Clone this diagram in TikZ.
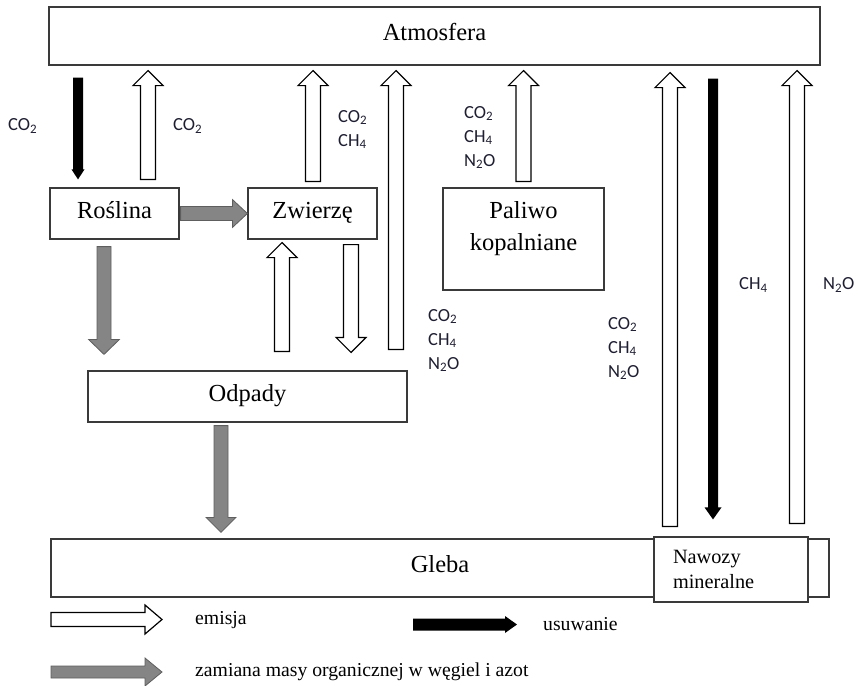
\documentclass[tikz,border=0pt]{standalone}
\usepackage{fontspec}
\setmainfont{Liberation Serif}
\newfontfamily\calibri{Carlito}
\usepackage{tikz}
\usetikzlibrary{positioning,calc}
\definecolor{frame}{HTML}{3A3A3A}
\definecolor{organic}{HTML}{858585}
\definecolor{organicdark}{HTML}{5E5E5E}
\definecolor{gas}{HTML}{1E1E32}
\pgfkeys{/arr/.cd, shaft/.store in=\arrsw, head/.store in=\arrhw, tip/.store in=\arrhl,
  shaft=7.5pt, head=15pt, tip=15pt}
% block arrow from #2 to #3
\newcommand{\blockarrow}[3][]{%
  \path[#1] ($(#2)!\arrsw!90:(#3)$) -- ($(#3)!\arrhl!(#2)!\arrsw!-90:(#2)$)
    -- ($(#3)!\arrhl!(#2)!\arrhw!-90:(#2)$) -- (#3)
    -- ($(#3)!\arrhl!(#2)!\arrhw!90:(#2)$) -- ($(#3)!\arrhl!(#2)!\arrsw!90:(#2)$)
    -- ($(#2)!\arrsw!-90:(#3)$) -- cycle;}

\begin{document}
\begin{tikzpicture}[x=1pt, y=-1pt,
  box/.style={draw=frame, line width=1.2pt, fill=white, inner sep=0pt},
  main/.style={box, text height=17pt, text depth=8pt, font=\fontsize{24.5}{32}\selectfont},
  gas/.style={anchor=west, align=left, text=gas, inner sep=0pt, font=\calibri\fontsize{18.5}{24}\selectfont},
  leg/.style={anchor=west, inner sep=0pt, font=\fontsize{19.7}{24}\selectfont},
  emis/.style={draw=black, line width=1.2pt, fill=white, /arr/shaft=7.5pt, /arr/head=15pt, /arr/tip=15pt},
  usuw/.style={fill=black, /arr/shaft=5pt, /arr/head=8.5pt, /arr/tip=12pt},
  organ/.style={draw=organicdark, line width=0.8pt, fill=organic, /arr/shaft=7pt, /arr/head=15pt, /arr/tip=15pt}]
\useasboundingbox (0,0) rectangle (858,685);
% boxes
\node[main, minimum width=771pt, minimum height=58pt] (atm) at (434.5,36) {Atmosfera};
\node[main, minimum width=129pt, minimum height=51pt] (rosl) at (114.5,213.5) {Roślina};
\node[main, minimum width=129pt, minimum height=51pt] (zw) at (312.5,213.5) {Zwierzę};
\node[box, minimum width=161pt, minimum height=102pt] (pal) at (523.5,239) {};
\node[align=center, inner sep=0pt, font=\fontsize{24.5}{32}\selectfont] (paltxt) at (523.5,228.5) {Paliwo\\kopalniane};
\node[main, minimum width=319pt, minimum height=51pt] (odp) at (247.5,396.5) {Odpady};
\node[main, minimum width=778pt, minimum height=58pt] (gleba) at (440,568) {Gleba};
\node[box, align=left, text width=116pt, inner xsep=19pt, minimum height=65pt,
  font=\fontsize{20.3}{25}\selectfont] (naw) at (731,569.5) {Nawozy\\mineralne};
% emisja
\coordinate (e1a) at ($(rosl.north)+(33.5,-8)$);
\coordinate (e1b) at ($(e1a|-atm.south)+(0,5)$);
\coordinate (e2a) at ($(zw.north)+(0.5,-6)$);
\coordinate (e2b) at ($(e2a|-atm.south)+(0,5)$);
\coordinate (e3a) at ($(odp.north)+(148.5,-21)$);
\coordinate (e3b) at ($(e3a|-atm.south)+(0,5)$);
\coordinate (e4a) at ($(pal.north)+(0,-6)$);
\coordinate (e4b) at ($(e4a|-atm.south)+(0,5)$);
\coordinate (e5a) at ($(naw.north)+(-61,-10)$);
\coordinate (e5b) at ($(e5a|-atm.south)+(0,7)$);
\coordinate (e6a) at ($(naw.north)+(66,-13)$);
\coordinate (e6b) at ($(e6a|-atm.south)+(0,5)$);
\coordinate (e7a) at ($(odp.north)+(34.5,-19)$);
\coordinate (e7b) at ($(e7a|-zw.south)+(0,3)$);
\coordinate (e8a) at ($(zw.south)+(38.5,5)$);
\coordinate (e8b) at ($(e8a|-odp.north)+(0,-18)$);
\foreach \a/\b in {e1a/e1b, e2a/e2b, e3a/e3b, e4a/e4b, e5a/e5b, e6a/e6b, e7a/e7b, e8a/e8b}
  \blockarrow[emis]{\a}{\b};
% usuwanie
\coordinate (b1b) at ($(rosl.north)+(-36.5,-8)$);
\coordinate (b1a) at ($(b1b|-atm.south)+(0,12)$);
\coordinate (b2b) at ($(naw.north)+(-18,-17)$);
\coordinate (b2a) at ($(b2b|-atm.south)+(0,13)$);
\blockarrow[usuw, /arr/head=6.5pt, /arr/tip=10pt]{b1a}{b1b};
\blockarrow[usuw]{b2a}{b2b};
% zamiana masy organicznej
\coordinate (g1a) at ($(rosl.east)+(1,0)$);
\coordinate (g2a) at ($(rosl.south)+(-10.5,7)$);
\coordinate (g2b) at ($(g2a|-odp.north)+(0,-16)$);
\coordinate (g3a) at ($(odp.south)+(-26.5,3)$);
\coordinate (g3b) at ($(g3a|-gleba.north)+(0,-6)$);
\blockarrow[organ, /arr/head=14pt]{g1a}{zw.west};
\blockarrow[organ, /arr/head=15.5pt]{g2a}{g2b};
\blockarrow[organ]{g3a}{g3b};
% gases
\node[gas] (co2a) at (8,126) {CO\textsubscript{2}};
\node[gas] (co2b) at (173,126) {CO\textsubscript{2}};
\node[gas] (zwgas) at (338,129.5) {CO\textsubscript{2}\\CH\textsubscript{4}};
\node[gas] (palgas) at (464,137.5) {CO\textsubscript{2}\\CH\textsubscript{4}\\N\textsubscript{2}O};
\node[gas] (odpgas) at (428,340.5) {CO\textsubscript{2}\\CH\textsubscript{4}\\N\textsubscript{2}O};
\node[gas] (nawgas) at (608,348.5) {CO\textsubscript{2}\\CH\textsubscript{4}\\N\textsubscript{2}O};
\node[gas] (ch4) at (739,285) {CH\textsubscript{4}};
\node[gas] (n2o) at (823,285) {N\textsubscript{2}O};
% legend
\coordinate (lem1) at (51,619.5);  \coordinate (lem2) at (162,619.5);
\coordinate (lus1) at (413,624.5); \coordinate (lus2) at (517,624.5);
\coordinate (lor1) at (51,672);    \coordinate (lor2) at (162,672);
\blockarrow[emis, /arr/shaft=7pt, /arr/head=14.5pt, /arr/tip=17pt]{lem1}{lem2};
\blockarrow[usuw, /arr/shaft=6pt]{lus1}{lus2};
\blockarrow[organ, /arr/shaft=6pt, /arr/head=14pt, /arr/tip=17pt]{lor1}{lor2};
\node[leg] (lemt) at (195,620) {emisja};
\node[leg] (lust) at (543,624) {usuwanie};
\node[leg] (lort) at (195,672) {zamiana masy organicznej w węgiel i azot};
\end{tikzpicture}
\end{document}
